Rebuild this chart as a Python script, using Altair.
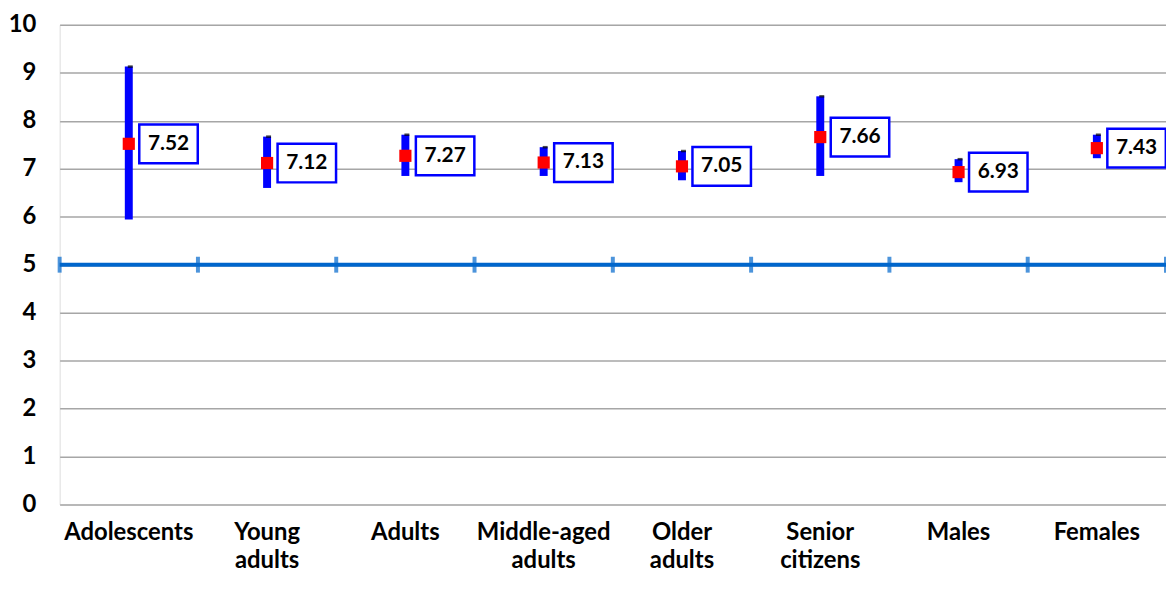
import altair as alt
import pandas as pd

categories = ["Adolescents", "Young adults", "Adults", "Middle-aged adults",
              "Older adults", "Senior citizens", "Males", "Females"]
means = [7.52, 7.12, 7.27, 7.13, 7.05, 7.66, 6.93, 7.43]
lower = [5.94, 6.60, 6.85, 6.85, 6.76, 6.85, 6.72, 7.22]
upper = [9.13, 7.67, 7.71, 7.45, 7.37, 8.51, 7.20, 7.71]
y_ticks = [0, 1, 2, 3, 4, 5, 6, 7, 8, 9, 10]
axis_cross = [5]

FONT = "Lato"

df = pd.DataFrame({"category": categories, "mean": means, "lower": lower, "upper": upper})
cross_df = pd.DataFrame({"level": axis_cross})
last_df = df.iloc[[-1]]

xsort = categories
xscale = alt.Scale(paddingInner=0, paddingOuter=0)
yscale = alt.Scale(domain=[0, 10], nice=False, zero=True)

xaxis = alt.Axis(title=None, labelAngle=0, domain=False, ticks=False, grid=False,
                 labelExpr="split(datum.label, ' ')", labelFont=FONT,
                 labelFontSize=24, labelFontWeight="bold", labelColor="black",
                 labelLineHeight=28, labelPadding=16, labelLimit=300)
yaxis = alt.Axis(title=None, values=y_ticks, domain=False, ticks=False, grid=True,
                 gridColor="#A6A6A6", gridWidth=1.5, labelFont=FONT,
                 labelFontSize=24, labelFontWeight="bold", labelColor="black",
                 labelPadding=24)

X = alt.X("category:N", sort=xsort, scale=xscale, axis=xaxis)
base = alt.Chart(df)

bars = base.mark_rule(color="#0000FF", strokeWidth=8).encode(
    x=X,
    y=alt.Y("lower:Q", scale=yscale, axis=yaxis),
    y2="upper:Q",
)

cross = alt.Chart(cross_df).mark_rule(color="#0066CC", strokeWidth=4).encode(
    y=alt.Y("level:Q", scale=yscale),
    x=alt.value(0),
    x2=alt.value("width"),
)

sep = base.mark_tick(orient="vertical", color="#0066CC", size=16, thickness=4).encode(
    x=alt.X("category:N", sort=xsort, bandPosition=0),
    y=alt.datum(axis_cross[0]),
)
sep_last = alt.Chart(last_df).mark_tick(orient="vertical", color="#0066CC", size=16, thickness=4).encode(
    x=alt.X("category:N", sort=xsort, bandPosition=1),
    y=alt.datum(axis_cross[0]),
)

caps = base.mark_tick(color="black", size=5, thickness=2.5, xOffset=1.5).encode(
    x=alt.X("category:N", sort=xsort),
    y="upper:Q",
)

markers = base.mark_point(shape="square", filled=True, color="#FF0000", size=150, opacity=1).encode(
    x=alt.X("category:N", sort=xsort),
    y="mean:Q",
)

boxes = base.mark_point(shape="M-1.51,-1L1.51,-1L1.51,1L-1.51,1Z", fill="white", fillOpacity=1,
                        stroke="#0000FF", strokeWidth=2.5, size=1521, opacity=1, xOffset=40).encode(
    x=alt.X("category:N", sort=xsort),
    y="mean:Q",
)

labels = base.mark_text(xOffset=40, font=FONT, fontSize=21, fontWeight="bold", color="black",
                        baseline="middle", align="center").encode(
    x=alt.X("category:N", sort=xsort),
    y="mean:Q",
    text=alt.Text("mean:Q", format=".2f"),
)

chart = alt.layer(bars, cross, sep, sep_last, caps, markers, boxes, labels).properties(
    width=1114, height=483,
    autosize=alt.AutoSizeParams(type="none"),
    padding={"left": 52, "top": 15, "right": 0, "bottom": 72},
).configure_view(stroke=None).configure(background="white")

chart.save("out.html", embed_options={"renderer": "svg", "actions": False})
